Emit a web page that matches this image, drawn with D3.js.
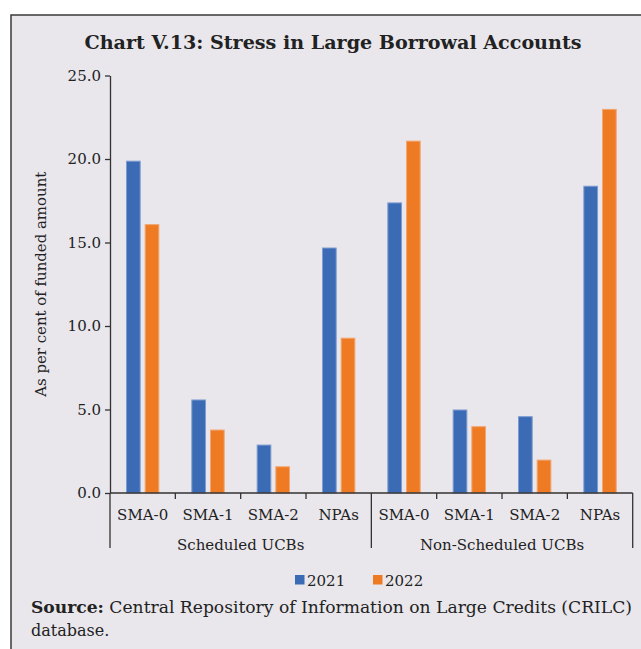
<!DOCTYPE html>
<html>
<head>
<meta charset="utf-8">
<script src="https://cdn.jsdelivr.net/npm/d3@7"></script>
<style>
  html, body { margin: 0; padding: 0; background: #ffffff; }
  svg { display: block; }
  text { font-family: "DejaVu Serif", "Liberation Serif", serif; fill: #222; }
</style>
</head>
<body>
<svg id="chart" width="641" height="649"></svg>
<script>
// Bank groups and stress categories
const groups = ["Scheduled UCBs", "Non-Scheduled UCBs"];
const categories = ["SMA-0", "SMA-1", "SMA-2", "NPAs"];
const seriesNames = ["2021", "2022"];
const seriesColors = ["#3b6bb5", "#ee7b23"];
const seriesStrokes = ["#7e9ccf", "#f3a56f"];

// Per cent of funded amount, Scheduled UCBs then Non-Scheduled UCBs
const values2021 = [19.9, 5.6, 2.9, 14.7, 17.4, 5.0, 4.6, 18.4];
const values2022 = [16.1, 3.8, 1.6, 9.3, 21.1, 4.0, 2.0, 23.0];

const yTicks = [0, 5, 10, 15, 20, 25];

const svg = d3.select("#chart");

// Panel background with frame on the top and left
svg.append("rect").attr("x", 11).attr("y", 15).attr("width", 640).attr("height", 640)
  .attr("fill", "#e9e7ec");
svg.append("path").attr("d", "M11,649 V15 H641")
  .attr("fill", "none").attr("stroke", "#3a3a3a").attr("stroke-width", 1.5);

// Title
svg.append("text")
  .attr("x", 333).attr("y", 49)
  .attr("text-anchor", "middle")
  .attr("font-size", 19).attr("font-weight", "bold")
  .attr("textLength", 497).attr("lengthAdjust", "spacingAndGlyphs")
  .text("Chart V.13: Stress in Large Borrowal Accounts");

const plotLeft = 110, plotRight = 632.7, plotTop = 75.5, plotBottom = 493;

const keys = [];
groups.forEach((g, gi) => categories.forEach((c, ci) => keys.push({ g, gi, c, i: gi * categories.length + ci })));

const x0 = d3.scaleBand().domain(keys.map(k => k.i)).range([plotLeft, plotRight]).padding(0);
const x1 = d3.scaleBand().domain(seriesNames).range([0, x0.bandwidth()])
  .paddingInner(0.214).paddingOuter(0.856);
const y = d3.scaleLinear().domain([0, 25]).range([plotBottom, plotTop]);

const seriesValues = [values2021, values2022];

// Bars
const plot = svg.append("g");
seriesNames.forEach((s, si) => {
  plot.selectAll(null)
    .data(keys)
    .enter().append("rect")
    .attr("x", d => x0(d.i) + x1(s) + 0.5)
    .attr("y", d => y(seriesValues[si][d.i]) + 0.5)
    .attr("width", x1.bandwidth() - 1)
    .attr("height", d => plotBottom - y(seriesValues[si][d.i]) - 0.5)
    .attr("fill", seriesColors[si])
    .attr("stroke", seriesStrokes[si])
    .attr("stroke-width", 1);
});

// Y axis
const yAxis = d3.axisLeft(y).tickValues(yTicks).tickFormat(d3.format(".1f"))
  .tickSize(5).tickSizeOuter(0).tickPadding(4);
const yg = svg.append("g").attr("transform", `translate(${plotLeft},0)`).call(yAxis);
yg.select(".domain").attr("stroke", "#333").attr("stroke-width", 1.3);
yg.selectAll(".tick line").attr("stroke", "#333").attr("stroke-width", 1.3);
yg.selectAll(".tick text").attr("font-size", 15).attr("fill", "#222")
  .style("font-family", "'DejaVu Serif', serif");

// Y axis title
svg.append("text")
  .attr("transform", `translate(46,${(plotTop + plotBottom) / 2}) rotate(-90)`)
  .attr("text-anchor", "middle")
  .attr("font-size", 15)
  .attr("textLength", 225).attr("lengthAdjust", "spacingAndGlyphs")
  .text("As per cent of funded amount");

// X axis baseline
svg.append("line").attr("x1", plotLeft).attr("x2", plotRight).attr("y1", plotBottom).attr("y2", plotBottom)
  .attr("stroke", "#333").attr("stroke-width", 1.3);

// Category separators (short) and group separators (long)
const boundaries = d3.range(keys.length + 1).map(i => ({
  x: i < keys.length ? x0(i) : x0(keys.length - 1) + x0.bandwidth(),
  long: i % categories.length === 0
}));
svg.selectAll(null).data(boundaries).enter().append("line")
  .attr("x1", d => d.x).attr("x2", d => d.x)
  .attr("y1", plotBottom).attr("y2", d => d.long ? 548 : 499)
  .attr("stroke", "#333").attr("stroke-width", 1.3);

// Category labels
svg.selectAll(null).data(keys).enter().append("text")
  .attr("x", d => x0(d.i) + x0.bandwidth() / 2)
  .attr("y", 520)
  .attr("text-anchor", "middle")
  .attr("font-size", 15)
  .text(d => d.c);

// Group labels
svg.selectAll(null).data(groups).enter().append("text")
  .attr("x", (g, gi) => (x0(gi * categories.length) + x0((gi + 1) * categories.length - 1) + x0.bandwidth()) / 2)
  .attr("y", 550)
  .attr("text-anchor", "middle")
  .attr("font-size", 15)
  .text(d => d);

// Legend
const legendX = [295, 373];
seriesNames.forEach((s, si) => {
  svg.append("rect").attr("x", legendX[si]).attr("y", 575).attr("width", 9.5).attr("height", 9.5)
    .attr("fill", seriesColors[si]);
  svg.append("text").attr("x", legendX[si] + 12).attr("y", 585.5)
    .attr("font-size", 15).text(s);
});

// Source note
const src = svg.append("text").attr("x", 31).attr("y", 613).attr("font-size", 16)
  .attr("textLength", 601).attr("lengthAdjust", "spacingAndGlyphs");
src.append("tspan").attr("font-weight", "bold").text("Source:");
src.append("tspan").text(" Central Repository of Information on Large Credits (CRILC)");
svg.append("text").attr("x", 31).attr("y", 636).attr("font-size", 16).text("database.");
</script>
</body>
</html>
